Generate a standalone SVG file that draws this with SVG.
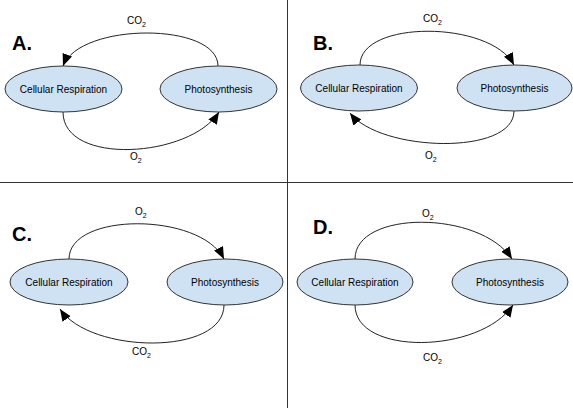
<svg xmlns="http://www.w3.org/2000/svg" width="573" height="408" viewBox="0 0 573 408">
<style>
.node ellipse{fill:#cfe2f3;stroke:#333;stroke-width:1}
.node text{font-family:"Liberation Sans",Arial,sans-serif;font-size:10px;fill:#000;text-anchor:middle}
.conn path{fill:none;stroke:#222;stroke-width:1;marker-end:url(#ah)}
.lbl{font-family:"Liberation Sans",Arial,sans-serif;font-size:10px;fill:#000}
.sub{font-size:7px}
.panel{font-family:"Liberation Sans",Arial,sans-serif;font-size:20px;font-weight:bold;fill:#000}
.div{stroke:#333;stroke-width:1}
</style>
<defs>
<marker id="ah" markerUnits="userSpaceOnUse" markerWidth="12" markerHeight="10" refX="12" refY="5" orient="auto">
<path d="M0,0 L12,5 L0,10 Z" fill="#000"/>
</marker>
</defs>
<rect width="573" height="408" fill="#fff"/>
<g id="dividers">
<line class="div" x1="287.5" y1="0" x2="287.5" y2="408"/>
<line class="div" x1="0" y1="182.5" x2="573" y2="182.5"/>
</g>
<g id="panel-labels">
<text class="panel" x="12" y="50">A.</text>
<text class="panel" x="313" y="50">B.</text>
<text class="panel" x="12" y="241">C.</text>
<text class="panel" x="313" y="234">D.</text>
</g>
<g id="A-cr" class="node"><ellipse cx="63.5" cy="89" rx="58.5" ry="23"/><text x="63.5" y="92.5">Cellular Respiration</text></g>
<g id="A-ps" class="node"><ellipse cx="218.5" cy="89" rx="58.5" ry="23"/><text x="218.5" y="92.5">Photosynthesis</text></g>
<g id="B-cr" class="node"><ellipse cx="359" cy="88" rx="58.5" ry="23"/><text x="359" y="91.5">Cellular Respiration</text></g>
<g id="B-ps" class="node"><ellipse cx="514.5" cy="88" rx="57.5" ry="23"/><text x="514.5" y="91.5">Photosynthesis</text></g>
<g id="C-cr" class="node"><ellipse cx="69" cy="282" rx="59" ry="23"/><text x="69" y="285.5">Cellular Respiration</text></g>
<g id="C-ps" class="node"><ellipse cx="225" cy="282" rx="58" ry="23"/><text x="225" y="285.5">Photosynthesis</text></g>
<g id="D-cr" class="node"><ellipse cx="355" cy="282" rx="58" ry="23"/><text x="355" y="285.5">Cellular Respiration</text></g>
<g id="D-ps" class="node"><ellipse cx="510" cy="282" rx="58" ry="23"/><text x="510" y="285.5">Photosynthesis</text></g>
<g id="connectors" class="conn">
<path d="M218,66 C218,22 80,22 63,66"/>
<path d="M63,112 C63,166 190,158 219,112"/>
<path d="M360,65 C360,20 490,20 514,65"/>
<path d="M514,111 C514,156 380,152 350,113"/>
<path d="M69,259 C69,212 200,212 224,259"/>
<path d="M224,305 C224,356 90,354 60,309"/>
<path d="M355,259 C355,210 480,210 512,259"/>
<path d="M355,305 C355,356 480,354 513,305"/>
</g>
<g id="connector-labels">
<text class="lbl" x="127" y="24">CO<tspan class="sub" dy="3">2</tspan></text>
<text class="lbl" x="130" y="160">O<tspan class="sub" dy="3">2</tspan></text>
<text class="lbl" x="423" y="22">CO<tspan class="sub" dy="3">2</tspan></text>
<text class="lbl" x="425" y="159">O<tspan class="sub" dy="3">2</tspan></text>
<text class="lbl" x="135" y="215">O<tspan class="sub" dy="3">2</tspan></text>
<text class="lbl" x="132" y="355">CO<tspan class="sub" dy="3">2</tspan></text>
<text class="lbl" x="422" y="217">O<tspan class="sub" dy="3">2</tspan></text>
<text class="lbl" x="423" y="361">CO<tspan class="sub" dy="3">2</tspan></text>
</g>
</svg>
